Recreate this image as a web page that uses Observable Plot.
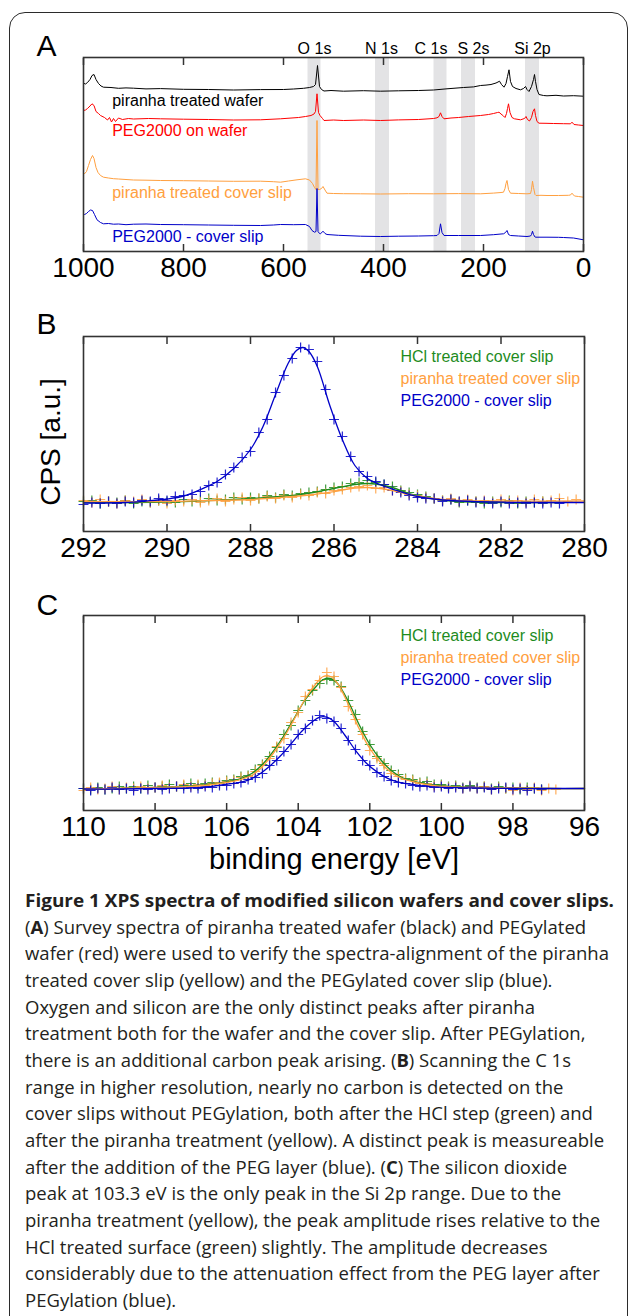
<!DOCTYPE html>
<html><head><meta charset="utf-8">
<script src="https://cdn.jsdelivr.net/npm/d3@7"></script>
<script src="https://cdn.jsdelivr.net/npm/@observablehq/plot@0.6"></script>
<style>
html,body{margin:0;padding:0;background:#fff;}
body{width:630px;height:1316px;position:relative;overflow:hidden;font-family:"Liberation Sans",Arial,sans-serif;}
#box{position:absolute;left:9px;top:12px;width:617px;height:1400px;border:1.5px solid #2b2b2b;border-radius:16px;}
.panel{position:absolute;left:0;width:630px;}
#caption{position:absolute;left:25px;top:887px;font-family:"Open Sans",sans-serif;font-size:18.5px;line-height:26.67px;color:#231f20;white-space:nowrap;}
#caption .cl{height:26.67px;}
#caption .title{font-weight:700;}
#caption span{display:inline-block;transform-origin:0 0;}
</style></head>
<body>
<div id="box"></div>
<div id="pA" class="panel" style="top:0px"></div>
<div id="pB" class="panel" style="top:290px"></div>
<div id="pC" class="panel" style="top:580px"></div>
<div id="caption"></div>
<script>
// ---------- Panel A: survey spectra (binding energy eV, intensity a.u.) ----------
const aTicks = [1000, 800, 600, 400, 200, 0];
const bandLo = [525, 388, 273, 216, 88];
const bandHi = [551, 416, 299, 244, 116];
const bandNames = ["O 1s", "N 1s", "C 1s", "S 2s", "Si 2p"];
const bandLabelE = [538, 404, 305, 220, 102];
const aSeriesNames = ["piranha treated wafer", "PEG2000 on wafer", "piranha treated cover slip", "PEG2000 - cover slip"];

const aBlackE = [1000,996,992,987,983,979,975,970,965,960,945,930,915,900,875,846,800,750,700,646,600,580,560,548,540,536,532,528,524,519,505,480,440,406,370,330,300,273,240,220,206,195,185,175,171,168,164,159,155,152,149,146,142,135,126,120,116,113,109,104,100,98,96,93,89,80,73,55,40,20,0];
const aBlackV = [168.3,167.5,169,172,176,177,172,168,165.5,164.3,164,163.2,163.6,163.3,162.6,162.9,162.2,162,161.5,161.9,162,162.5,163.2,164,165,167,186,165,162,160.5,161,160.3,160.8,160.3,160.7,161,161.5,162.7,164,164.6,166,166.4,167,168.5,169.5,170.3,167,164.3,168,175,181.7,170,165,163,161.7,163,165,162,160,165,172,177,170,162,157,156,155.7,156.2,155.5,155.8,155.3];

const aRedE = [1000,996,992,987,983,979,975,970,966,958,952,948,944,940,936,930,922,910,900,870,846,800,750,700,646,606,570,556,545,539,536,533,530,527,522,519,500,480,440,406,370,330,300,293,289,286,283,279,265,250,230,206,190,180,172,169,165,160,157,154,152,150,147,143,138,126,118,115,112,108,104,101,98,96,93,89,75,60,40,26,23,19,10,0];
const aRedV = [141,141.5,143,145.5,147.7,146,140,138,136,134,131.5,134,129.5,133,130,133.5,132,133,132.5,133,132.7,132.3,132,131.5,131.7,132.7,134,135,136,137.5,140,157.7,139,136,133,131,131.5,131,131.5,131,131.6,132,133,133.7,135,138.7,135,132.7,133.5,134,135,136,137,138,139,139.3,137.5,135.5,134,138,143,147.7,139,134,132.7,131.7,133,135,132,130.5,134,140,142.7,136,130,128.3,128.2,128,127.8,127.7,129.3,127,126.5,126];

const aOrangeE = [1000,998,994,990,986,982,979,975,971,966,960,950,940,930,915,900,875,846,800,750,700,646,620,606,590,573,556,548,542,538,535,533,531,528,524,521,517,513,500,480,446,406,350,300,250,206,180,165,160,157,155,153,150,146,130,113,106,104,102,100,97,95,85,73,50,30,26,23,20,18,10,0];
const aOrangeV = [79,77.7,80,86,92,96,93,84,79,76,74.3,73.5,72.8,72.5,72,71.5,71.3,71,70.8,70.5,70.2,70.3,69.8,69.3,70.5,71.7,72.7,71.5,68,64,62,131,62,62,63,65,61.5,58.3,58,57.8,57.7,57.5,57.8,57.7,57.9,57.7,58.4,59,59.3,63,68,71,62,58.3,58,57.7,58,62,70.3,64,57,56,56.2,56,56,56.2,56.5,58.3,56.5,55.5,55,54.3];

const aBlueE = [1000,998,994,990,986,982,978,973,966,960,950,940,930,915,900,875,846,800,750,700,646,620,606,580,556,548,543,538,535,533,531,528,526,521,517,513,490,446,406,370,330,300,293,289,286,283,279,250,206,180,165,160,156,153,150,146,130,113,106,104,102,100,97,96,73,50,40,20,0];
const aBlueV = [37.5,37,38,40,41.5,41,37,31.7,29,27.7,28,27.3,27.5,26.8,27.3,27.5,27,26.8,26.5,26.2,26,26.5,27,26.8,27,25,21,19.3,20,63,20,18,17.7,20.3,18,17,16.2,15.3,15,15.3,15.5,15.8,16,18,27.7,19,16,16,16,16.8,17.5,17.7,19,21,17,16,15.5,15,15.5,17,20.3,17,14.5,14.3,14.3,14.2,14,13.5,11.7];

// ---------- Panel B: C 1s region ----------
const bTicks = [292, 290, 288, 286, 284, 282, 280];
const legendNames = ["HCl treated cover slip", "piranha treated cover slip", "PEG2000 - cover slip"];
const bE = [292.0,291.8,291.6,291.4,291.2,291.0,290.8,290.6,290.4,290.2,290.0,289.8,289.6,289.4,289.2,289.0,288.8,288.6,288.4,288.2,288.0,287.8,287.6,287.4,287.2,287.0,286.8,286.6,286.4,286.2,286.0,285.8,285.6,285.4,285.2,285.0,284.8,284.6,284.4,284.2,284.0,283.8,283.6,283.4,283.2,283.0,282.8,282.6,282.4,282.2,282.0,281.8,281.6,281.4,281.2,281.0,280.8,280.6,280.4,280.2];
const bGreen = [30,31,28,30,29,31,28,30,29,31,30,29,32,30,31,33,31,32,34,32,34,33,36,34,37,36,38,39,40,42,44,45,48,49,51,49,47,45,41,39,37,35,33,31,32,29,31,30,28,30,29,31,28,30,29,30,null,null,null,null];
const bOrange = [31,29,32,30,28,31,30,32,29,31,28,31,30,32,29,31,33,30,32,34,31,33,35,33,36,34,37,36,39,38,41,42,44,45,46,43,44,41,40,37,36,34,33,31,33,30,32,30,31,29,32,30,31,29,32,30,31,33,30,32];
const bBlue = [27,29,28,30,28,30,29,31,30,33,31,35,36,37,40,46,49,57,64,74,80,99,112,139,156,173,184,182,170,142,112,95,75,60,55,50,47,41,39,36,34,33,33,30,32,30,31,29,30,28,30,28,29,28,29,28,29,28,null,null];
const bGreenFitE = [292,290,289,288,287,286.5,286,285.5,285.2,285,284.6,284.2,283.8,283.4,283,282,280.6];
const bGreenFitV = [29,29.5,31,33,36,39,43,47,48,47.5,44,38,34,31.5,30,29,29];
const bOrangeFitE = [292,290,289,288,287,286.5,286,285.5,285.2,285,284.6,284.2,283.8,283.4,283,282,280];
const bOrangeFitV = [30,30,31,32,35,37,40,43.5,44,43.5,41,37,34,32,31,30.5,30.5];
const bBlueFitE = [292,291,290.5,290,289.6,289.2,288.8,288.4,288,287.7,287.4,287.1,286.9,286.75,286.6,286.4,286.1,285.8,285.5,285.2,284.9,284.5,284,283.5,283,282,281,280];
const bBlueFitV = [28.5,29,30.5,32.5,35.5,42,50,63,82,105,137,168,181,184,180,165,126,92,66,53,47,41,35,32,30.5,29.3,29,29];

// ---------- Panel C: Si 2p region ----------
const cTicks = [110, 108, 106, 104, 102, 100, 98, 96];
const cE = [110.0,109.8,109.6,109.4,109.2,109.0,108.8,108.6,108.4,108.2,108.0,107.8,107.6,107.4,107.2,107.0,106.8,106.6,106.4,106.2,106.0,105.8,105.6,105.4,105.2,105.0,104.8,104.6,104.4,104.2,104.0,103.8,103.6,103.4,103.2,103.0,102.8,102.6,102.4,102.2,102.0,101.8,101.6,101.4,101.2,101.0,100.8,100.6,100.4,100.2,100.0,99.8,99.6,99.4,99.2,99.0,98.8,98.6,98.4,98.2,98.0,97.8,97.6,97.4,97.2,97.0,96.8];
const cGreen = [22,21,23,21,22,24,22,24,22,25,23,24,26,24,25,27,25,27,28,27,30,31,34,35,41,46,54,63,76,85,100,110,120,127,131,130,124,110,96,79,66,54,47,40,36,32,31,28,29,26,26,24,25,23,25,23,24,22,24,22,23,21,23,22,21,null,null];
const cOrange = [20,23,21,22,24,21,23,22,24,22,23,25,23,24,26,24,26,25,27,28,29,30,33,34,39,45,52,64,72,88,98,114,121,130,138,134,123,104,91,76,60,52,45,37,34,31,30,27,27,24,25,23,24,22,24,22,24,21,23,22,20,23,21,23,20,22,21];
const cBlue = [22,20,22,21,23,21,22,20,22,21,23,21,22,24,22,23,22,24,23,25,25,27,28,31,33,37,45,50,59,66,76,82,90,95,92,89,82,70,61,50,45,38,34,30,28,27,25,24,25,23,24,22,23,22,24,22,23,21,22,23,21,22,20,22,21,null,null];
const cGreenFitE = [110,109,108,107,106.5,106,105.6,105.3,105,104.7,104.4,104.1,103.8,103.5,103.3,103.1,102.9,102.6,102.3,102,101.7,101.4,101.1,100.8,100.5,100,99,98,97,96];
const cGreenFitV = [21.5,22,23,24.5,26,28.5,32,37,46,59,75,93,111,124,131,132,127,109,86,66,51,40,33,29.5,27,24.5,23,22.5,22,22];
const cOrangeFitE = [110,109,108,107,106.5,106,105.6,105.3,105,104.7,104.4,104.1,103.8,103.5,103.3,103.1,102.9,102.6,102.3,102,101.7,101.4,101.1,100.8,100.5,100,99,98,97,96];
const cOrangeFitV = [21.5,22,23,24,25.5,28,31,35,44,57,73,92,112,127,134,134,127,106,82,62,48,38,32,29,26.5,24,23,22.5,22,22];
const cBlueFitE = [110,109,108,107,106.5,106.1,105.7,105.4,105.1,104.8,104.5,104.2,103.9,103.6,103.4,103.2,103.0,102.7,102.4,102.1,101.8,101.5,101.2,100.9,100.6,100.1,99,98,97,96];
const cBlueFitV = [21.5,21.5,22,22.5,23.5,25.8,27.7,30.3,36,44.3,54.5,66.6,79.3,88.9,93.3,93.3,88.9,75.5,60.2,47.5,38.6,32.2,28.4,26.5,24.9,23.3,22.5,22,22,22];

// ---------- caption ----------
const captionLines = [
  "Figure 1 XPS spectra of modified silicon wafers and cover slips.",
  "(<b>A</b>) Survey spectra of piranha treated wafer (black) and PEGylated",
  "wafer (red) were used to verify the spectra-alignment of the piranha",
  "treated cover slip (yellow) and the PEGylated cover slip (blue).",
  "Oxygen and silicon are the only distinct peaks after piranha",
  "treatment both for the wafer and the cover slip. After PEGylation,",
  "there is an additional carbon peak arising. (<b>B</b>) Scanning the C 1s",
  "range in higher resolution, nearly no carbon is detected on the",
  "cover slips without PEGylation, both after the HCl step (green) and",
  "after the piranha treatment (yellow). A distinct peak is measureable",
  "after the addition of the PEG layer (blue). (<b>C</b>) The silicon dioxide",
  "peak at 103.3 eV is the only peak in the Si 2p range. Due to the",
  "piranha treatment (yellow), the peak amplitude rises relative to the",
  "HCl treated surface (green) slightly. The amplitude decreases",
  "considerably due to the attenuation effect from the PEG layer after",
  "PEGylation (blue)."
];

// ---------- drawing ----------
const black = "#000000", red = "#ff0000", orange = "#ffa040", blue = "#0000c8", green = "#1e8c1e";
const ink = "#333333";
const fontFamily = "'Liberation Sans', Arial, Helvetica, sans-serif";

function xAxes(ticks) {
  return [
    Plot.axisX(ticks, {anchor: "bottom", tickSize: -7, fill: "none", label: null, stroke: ink, strokeWidth: 1.5}),
    Plot.axisX(ticks, {anchor: "top", tickSize: -7, fill: "none", label: null, stroke: ink, strokeWidth: 1.5}),
    Plot.axisX(ticks, {anchor: "bottom", tickSize: 0, tickPadding: 6, fontSize: 28, label: null, fill: "#000", tickFormat: d3.format("d")})
  ];
}
function panelLetter(letter, dy) {
  return Plot.text([letter], {text: d => d, frameAnchor: "top-left", dx: -47, dy, lineAnchor: "bottom", textAnchor: "start", fontSize: 30, fill: "#000"});
}
function legend() {
  const cols = [green, orange, blue];
  return legendNames.map((name, i) => Plot.text([name], {text: d => d, frameAnchor: "top-left", dx: 317, dy: 25.5 + 22 * i, lineAnchor: "bottom", textAnchor: "start", fontSize: 16, fill: cols[i]}));
}
function markers(E, V, col) {
  return Plot.dot(V, {x: E, y: V, symbol: "plus", r: 3.3, stroke: col, strokeWidth: 1.2, strokeOpacity: 0.85});
}
function fit(E, V, col) {
  return Plot.line(V, {x: E, y: V, stroke: col, strokeWidth: 1.3, curve: "catmull-rom"});
}

const cols4 = [black, red, orange, blue];
const aLabelDy = [48.7, 78.7, 140.3, 184];

const plotA = Plot.plot({
  width: 630, height: 290,
  marginTop: 57, marginRight: 47, marginBottom: 39, marginLeft: 83,
  style: {fontFamily, background: "transparent", overflow: "visible"},
  x: {domain: [1000, 0]},
  y: {domain: [0, 194], axis: null},
  marks: [
    Plot.rect(bandLo, {x1: bandLo, x2: bandHi, fill: "#e3e3e5"}),
    Plot.line(aBlackV, {x: aBlackE, y: aBlackV, stroke: black, strokeWidth: 1}),
    Plot.line(aRedV, {x: aRedE, y: aRedV, stroke: red, strokeWidth: 1}),
    Plot.line(aOrangeV, {x: aOrangeE, y: aOrangeV, stroke: orange, strokeWidth: 1}),
    Plot.line(aBlueV, {x: aBlueE, y: aBlueV, stroke: blue, strokeWidth: 1}),
    Plot.frame({stroke: ink, strokeWidth: 1.6}),
    ...xAxes(aTicks),
    Plot.text(bandNames, {x: bandLabelE, text: d => d, frameAnchor: "top", dy: -4, lineAnchor: "bottom", fontSize: 16, fill: "#000"}),
    ...aSeriesNames.map((name, i) => Plot.text([name], {text: d => d, frameAnchor: "top-left", dx: 28.7, dy: aLabelDy[i], lineAnchor: "bottom", textAnchor: "start", fontSize: 16, fill: cols4[i]})),
    panelLetter("A", -2)
  ]
});
document.getElementById("pA").appendChild(plotA);

const plotB = Plot.plot({
  width: 630, height: 290,
  marginTop: 46, marginRight: 46, marginBottom: 49, marginLeft: 83,
  style: {fontFamily, background: "transparent", overflow: "visible"},
  x: {domain: [292, 280]},
  y: {domain: [0, 195], axis: null},
  marks: [
    markers(bE, bGreen, green),
    markers(bE, bOrange, orange),
    markers(bE, bBlue, blue),
    fit(bGreenFitE, bGreenFitV, green),
    fit(bOrangeFitE, bOrangeFitV, orange),
    fit(bBlueFitE, bBlueFitV, blue),
    Plot.frame({stroke: ink, strokeWidth: 1.6}),
    ...xAxes(bTicks),
    ...legend(),
    Plot.text(["CPS [a.u.]"], {text: d => d, frameAnchor: "left", dx: -32, dy: 8, rotate: -90, textAnchor: "middle", lineAnchor: "middle", fontSize: 28, fill: "#000"}),
    panelLetter("B", -3)
  ]
});
document.getElementById("pB").appendChild(plotB);

const plotC = Plot.plot({
  width: 630, height: 310,
  marginTop: 35, marginRight: 46, marginBottom: 80, marginLeft: 83,
  style: {fontFamily, background: "transparent", overflow: "visible"},
  x: {domain: [110, 96]},
  y: {domain: [0, 195], axis: null},
  marks: [
    markers(cE, cGreen, green),
    markers(cE, cOrange, orange),
    markers(cE, cBlue, blue),
    fit(cGreenFitE, cGreenFitV, green),
    fit(cOrangeFitE, cOrangeFitV, orange),
    fit(cBlueFitE, cBlueFitV, blue),
    Plot.frame({stroke: ink, strokeWidth: 1.6}),
    ...xAxes(cTicks),
    ...legend(),
    Plot.text(["binding energy [eV]"], {text: d => d, frameAnchor: "bottom", dy: 58, lineAnchor: "bottom", textAnchor: "middle", fontSize: 29, fill: "#000"}),
    panelLetter("C", -1)
  ]
});
document.getElementById("pC").appendChild(plotC);

// caption
const cap = document.getElementById("caption");
captionLines.forEach((html, i) => {
  const d = document.createElement("div");
  d.className = i === 0 ? "cl title" : "cl";
  const s = document.createElement("span");
  s.innerHTML = html;
  d.appendChild(s);
  cap.appendChild(d);
});
function fitCaption() {
  const spans = cap.querySelectorAll("span");
  spans.forEach(s => s.style.transform = "none");
  const kt = 589 / spans[0].getBoundingClientRect().width;
  const kb = 584 / spans[2].getBoundingClientRect().width;
  spans.forEach((s, i) => s.style.transform = `scaleX(${i === 0 ? kt : kb})`);
}
fitCaption();
if (document.fonts && document.fonts.ready) document.fonts.ready.then(fitCaption);
</script>
</body></html>
